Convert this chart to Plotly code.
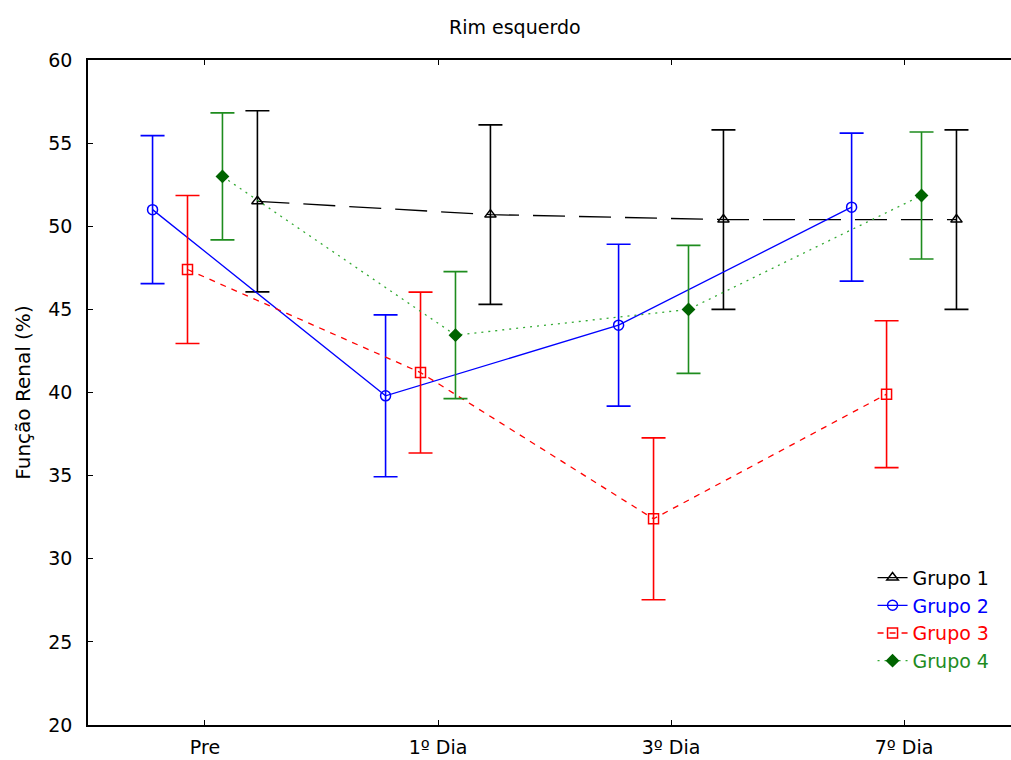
import plotly.graph_objects as go

categories = ["Pre", "1º Dia", "3º Dia", "7º Dia"]
y_ticks = [20, 25, 30, 35, 40, 45, 50, 55, 60]

g1_mean = [51.5, 50.7, 50.4, 50.4]
g1_err = [5.45, 5.4, 5.4, 5.4]
g2_mean = [51.0, 39.8, 44.05, 51.15]
g2_err = [4.45, 4.87, 4.87, 4.45]
g3_mean = [47.4, 41.2, 32.4, 39.9]
g3_err = [4.45, 4.84, 4.87, 4.42]
g4_mean = [53.0, 43.45, 45.0, 51.85]
g4_err = [3.82, 3.82, 3.85, 3.82]

groups = [
    dict(name="Grupo 1", mean=g1_mean, err=g1_err, off=0.225, line="#000000", bar="#000000",
         dash="32px,14px", symbol="triangle-up-open", mcolor="#000000", tcolor="#000000", msize=10),
    dict(name="Grupo 2", mean=g2_mean, err=g2_err, off=-0.225, line="#0000FF", bar="#0000FF",
         dash="solid", symbol="circle-open", mcolor="#0000FF", tcolor="#0000FF", msize=10),
    dict(name="Grupo 3", mean=g3_mean, err=g3_err, off=-0.075, line="#FF0000", bar="#FF0000",
         dash="6px,6px", symbol="square-open", mcolor="#FF0000", tcolor="#FF0000", msize=10),
    dict(name="Grupo 4", mean=g4_mean, err=g4_err, off=0.075, line="#33AA33", bar="#1E8C1E",
         dash="2px,5px", symbol="diamond", mcolor="#006400", tcolor="#1E8C1E", msize=9),
]

fig = go.Figure()
for g in groups:
    xs = [i + g["off"] for i in range(len(categories))]
    fig.add_trace(go.Scatter(
        x=xs, y=g["mean"], mode="lines+markers",
        name=f"<span style='color:{g['tcolor']}'>{g['name']}</span>",
        line=dict(color=g["line"], width=1.3, dash=g["dash"]),
        marker=dict(symbol=g["symbol"], size=g["msize"], color=g["mcolor"],
                    line=dict(color=g["mcolor"], width=1.5)),
        error_y=dict(type="data", array=g["err"], visible=True, color=g["bar"],
                     thickness=1.6, width=12),
    ))

font = "DejaVu Sans, Verdana, sans-serif"
fig.update_layout(
    width=1011, height=760,
    margin=dict(l=88, r=0, t=60, b=35),
    paper_bgcolor="white", plot_bgcolor="white",
    font=dict(family=font, size=19, color="#000000"),
    showlegend=True,
    legend=dict(x=0.85, y=0.25, xanchor="left", yanchor="top",
                bgcolor="rgba(0,0,0,0)", font=dict(size=19, family=font),
                tracegroupgap=0, itemwidth=30),
    xaxis=dict(range=[-0.502, 3.459], tickmode="array", tickvals=list(range(len(categories))),
               ticktext=categories, ticks="inside", ticklen=5, tickcolor="#000",
               showline=True, linecolor="#000", linewidth=1.5, mirror="ticks",
               showgrid=False, zeroline=False, tickfont=dict(size=19),
               ticklabelstandoff=4),
    yaxis=dict(range=[20, 60], tickmode="array", tickvals=y_ticks,
               ticks="inside", ticklen=5, tickcolor="#000",
               showline=True, linecolor="#000", linewidth=1.5, mirror=False,
               showgrid=False, zeroline=False, tickfont=dict(size=19),
               ticklabelstandoff=10,
               title=dict(text="Função Renal (%)", font=dict(size=20), standoff=12)),
    annotations=[dict(text="Rim esquerdo", xref="paper", yref="paper", x=0.463, y=1.0,
                      yshift=33, xanchor="center", yanchor="middle", showarrow=False,
                      font=dict(size=19))],
)

fig.write_html("out.html")
